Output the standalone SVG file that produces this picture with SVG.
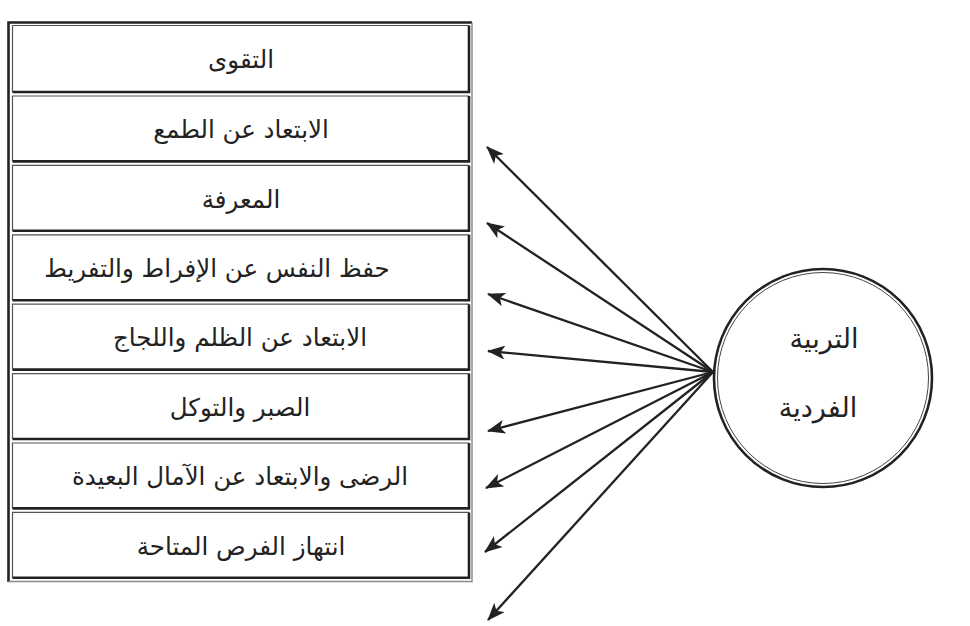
<svg xmlns="http://www.w3.org/2000/svg" width="970" height="626" viewBox="0 0 970 626">
<style>
.t{font-family:"DejaVu Sans",sans-serif;font-size:24.5px;fill:#222;text-anchor:middle;direction:rtl}
.c{font-family:"DejaVu Sans",sans-serif;font-size:27px;fill:#222;text-anchor:middle;direction:rtl}
.thin{fill:none;stroke:#555;stroke-width:1.2}
.thick{fill:none;stroke:#222;stroke-width:2.6}
.ar{stroke:#222;stroke-width:2.3;fill:none;marker-end:url(#ah)}
</style>
<defs>
<marker id="ah" viewBox="0 0 18 14" refX="17" refY="7" markerWidth="18" markerHeight="14" markerUnits="userSpaceOnUse" orient="auto">
<path d="M0,0 L18,7 L0,14 L4.5,7 z" fill="#222"/>
</marker>
</defs>
<rect width="970" height="626" fill="#fff"/>
<g id="frame">
<path d="M8.5,582 V22.5 H472" class="thick"/>
<path d="M8.5,581.5 H472 V22.5" fill="none" stroke="#888" stroke-width="1.4"/>
</g>
<g id="n1"><path d="M12.5,92 V25.5 H469" class="thin"/><path d="M12.5,92 H469 V25.5" class="thick"/><text class="t" x="241" y="68">التقوى</text></g>
<g id="n2"><path d="M12.5,161.4 V96 H469" class="thin"/><path d="M12.5,161.4 H469 V96" class="thick"/><text class="t" x="241" y="138">الابتعاد عن الطمع</text></g>
<g id="n3"><path d="M12.5,230.8 V165.4 H469" class="thin"/><path d="M12.5,230.8 H469 V165.4" class="thick"/><text class="t" x="241" y="208">المعرفة</text></g>
<g id="n4"><path d="M12.5,300.2 V234.8 H469" class="thin"/><path d="M12.5,300.2 H469 V234.8" class="thick"/><text class="t" x="217" y="277">حفظ النفس عن الإفراط والتفريط</text></g>
<g id="n5"><path d="M12.5,369.6 V304.2 H469" class="thin"/><path d="M12.5,369.6 H469 V304.2" class="thick"/><text class="t" x="240" y="346">الابتعاد عن الظلم واللجاج</text></g>
<g id="n6"><path d="M12.5,439 V373.6 H469" class="thin"/><path d="M12.5,439 H469 V373.6" class="thick"/><text class="t" x="240" y="416">الصبر والتوكل</text></g>
<g id="n7"><path d="M12.5,508.4 V443 H469" class="thin"/><path d="M12.5,508.4 H469 V443" class="thick"/><text class="t" x="240" y="485">الرضى والابتعاد عن الآمال البعيدة</text></g>
<g id="n8"><path d="M12.5,577.8 V512.4 H469" class="thin"/><path d="M12.5,577.8 H469 V512.4" class="thick"/><text class="t" x="241" y="555">انتهاز الفرص المتاحة</text></g>
<g id="center">
<circle cx="823" cy="378" r="109" fill="#fff" stroke="#222" stroke-width="2.6"/>
<circle cx="823" cy="378" r="105.5" fill="none" stroke="#444" stroke-width="1"/>
<text class="c" x="824" y="348">التربية</text>
<text class="c" x="818" y="417">الفردية</text>
</g>
<g id="connectors">
<line class="ar" x1="713" y1="372" x2="487" y2="147"/>
<line class="ar" x1="713" y1="372" x2="487" y2="223"/>
<line class="ar" x1="713" y1="372" x2="488" y2="294"/>
<line class="ar" x1="713" y1="372" x2="488" y2="351"/>
<line class="ar" x1="713" y1="372" x2="488" y2="431"/>
<line class="ar" x1="713" y1="372" x2="486" y2="488"/>
<line class="ar" x1="713" y1="372" x2="485" y2="552"/>
<line class="ar" x1="713" y1="372" x2="488" y2="620"/>
</g>
</svg>
